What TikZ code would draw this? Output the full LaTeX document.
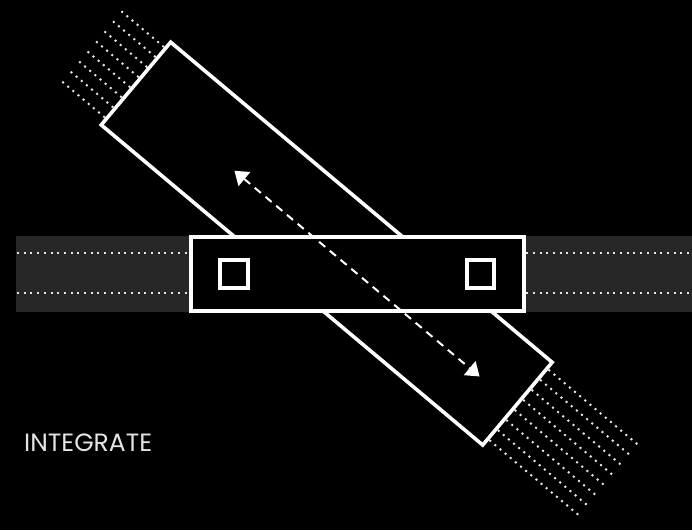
\documentclass[tikz,border=0pt]{standalone}
\usepackage{fontspec}
\setmainfont{Poppins}
\usetikzlibrary{arrows.meta}

\definecolor{bandgray}{HTML}{282728}
\definecolor{labelgray}{HTML}{E4E4E4}

\begin{document}
\begin{tikzpicture}[x=1pt, y=-1pt,
  outline/.style={draw=white, line width=3.6pt, fill=black, inner sep=0pt},
  pad/.style={outline, minimum size=27.5pt},
  dots/.style={white!90!black, line width=2pt, dash pattern=on 2pt off 4.7pt},
  arr/.style={{Triangle[length=13pt,width=18pt]}-{Triangle[length=13pt,width=18pt]},
              white, line width=2pt, dash pattern=on 8pt off 6pt}]

  % black page
  \fill[black] (0,0) rectangle (692,530);
  \useasboundingbox (0,0) rectangle (692,530);

  % horizontal track with its two dotted rails
  \fill[bandgray] (16,236) rectangle (692,312);
  \draw[dots] (17,253.3) -- (692,253.3);
  \draw[dots] (17,293.3) -- (692,293.3);

  % tilted track: dotted rails beyond both ends
  \begin{scope}[shift={(326.7,243.6)}, rotate=-40]
    \foreach \v in {-46,-32.9,-19.7,-6.6,6.6,19.7,32.9,46} {
      \draw[dots] (-251,\v) -- (-308,\v);
      \draw[dots] (251,\v) -- (371.5,\v);
    }
    \coordinate (tipA) at (-117.5,3.5);
    \coordinate (tipB) at (202.5,3.5);
  \end{scope}

  % tilted slab, then the fixed frame on top
  \node[outline, rotate=-40, minimum width=498pt, minimum height=108pt] (slab) at (326.7,243.6) {};
  \node[outline, minimum width=333pt, minimum height=73.7pt] (frame) at (357.5,274) {};
  \node[pad] (padL) at (234,274) {};
  \node[pad] (padR) at (480.5,274) {};

  % sliding direction
  \draw[arr] (tipA) -- (tipB);

  \node[font=\fontsize{25}{30}\selectfont, text=labelgray, anchor=base west, inner sep=0pt]
    (label) at (24,451.7) {INTEGRATE};
\end{tikzpicture}
\end{document}
